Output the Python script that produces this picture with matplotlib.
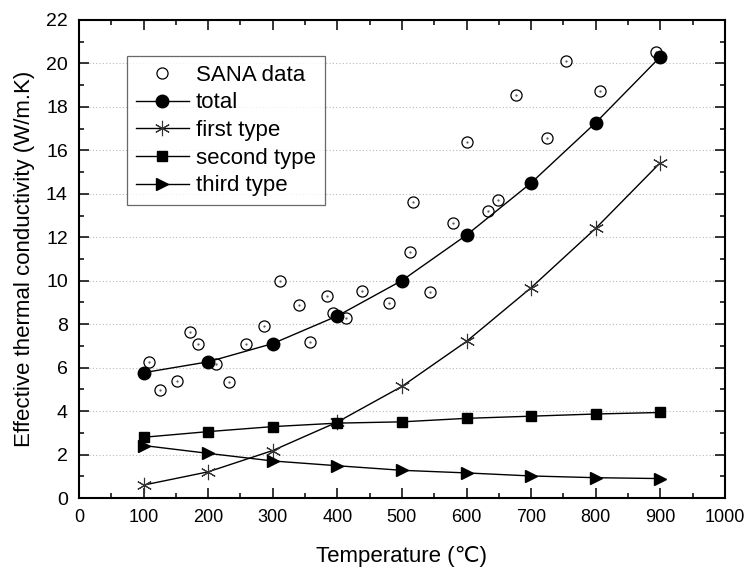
import matplotlib
matplotlib.use("Agg")
import matplotlib.pyplot as plt
from matplotlib.ticker import MultipleLocator

plt.rcParams["font.family"] = ["Liberation Sans", "DejaVu Sans"]

# model curves, evaluated every 100 C
temps = [100, 200, 300, 400, 500, 600, 700, 800, 900]
total = [5.77, 6.27, 7.11, 8.38, 10.01, 12.1, 14.5, 17.27, 20.3]
first_type = [0.6, 1.21, 2.19, 3.5, 5.14, 7.21, 9.68, 12.41, 15.43]
second_type = [2.80, 3.06, 3.29, 3.45, 3.51, 3.67, 3.77, 3.87, 3.94]
third_type = [2.42, 2.06, 1.71, 1.49, 1.28, 1.16, 1.02, 0.94, 0.90]

# measured points (SANA)
sana_t = [108, 125, 152, 172, 184, 212, 233, 259, 287, 312, 340, 357, 384, 393,
          413, 438, 480, 512, 517, 543, 579, 601, 633, 649, 676, 724, 754, 806, 894]
sana_k = [6.25, 4.99, 5.37, 7.65, 7.08, 6.18, 5.33, 7.08, 7.9, 9.99, 8.87, 7.2, 9.32, 8.53,
          8.3, 9.55, 8.96, 11.3, 13.6, 9.48, 12.66, 16.38, 13.22, 13.73, 18.55, 16.58, 20.12, 18.72, 20.54]

fig = plt.figure(figsize=(7.45, 5.68), dpi=100)
ax = fig.add_axes([0.106, 0.123, 0.867, 0.842])

ax.plot(sana_t, sana_k, "o", ls="none", ms=8, mfc="white", mec="black", mew=0.9,
        label="SANA data", zorder=3)
ax.plot(sana_t, sana_k, ".", ls="none", ms=1.2, color="#555555", zorder=4)
ax.plot(temps, total, "-o", color="black", lw=1.0, ms=9, label="total", zorder=5)
ax.plot(temps, first_type, "-", color="black", lw=1.0, marker=(6, 2, 0), ms=11,
        mec="#333333", mew=0.8, label="first type", zorder=5)
ax.plot(temps, second_type, "-s", color="black", lw=1.0, ms=7.5, label="second type", zorder=5)
ax.plot(temps, third_type, "->", color="black", lw=1.0, ms=9, label="third type", zorder=5)

ax.set_xlim(0, 1000)
ax.set_ylim(0, 22)
ax.xaxis.set_major_locator(MultipleLocator(100))
ax.xaxis.set_minor_locator(MultipleLocator(50))
ax.yaxis.set_major_locator(MultipleLocator(2))
ax.yaxis.set_minor_locator(MultipleLocator(1))
ax.tick_params(which="both", direction="in", top=True, right=True)
ax.tick_params(axis="x", labelsize=13)
ax.tick_params(axis="y", labelsize=14)
ax.tick_params(which="major", length=7, width=1.1, pad=8)
ax.tick_params(which="minor", length=3.6, width=1.1)
for s in ax.spines.values():
    s.set_linewidth(1.5)

ax.yaxis.grid(True, which="major", ls=(0, (1, 2)), color="#bbbbbb", lw=0.8)
ax.set_axisbelow(True)

ax.set_xlabel("Temperature (\u2103)", fontsize=16, labelpad=14)
ax.set_ylabel("Effective thermal conductivity (W/m.K)", fontsize=16, labelpad=8)

leg = ax.legend(loc="upper left", bbox_to_anchor=(0.074, 0.925), borderaxespad=0,
                fontsize=16, frameon=True, fancybox=False, handlelength=2.4,
                labelspacing=0.3, handletextpad=0.3, borderpad=0.4)
leg.get_frame().set_edgecolor("#444444")
leg.get_frame().set_linewidth(0.9)

fig.savefig("out.png", dpi=100)
